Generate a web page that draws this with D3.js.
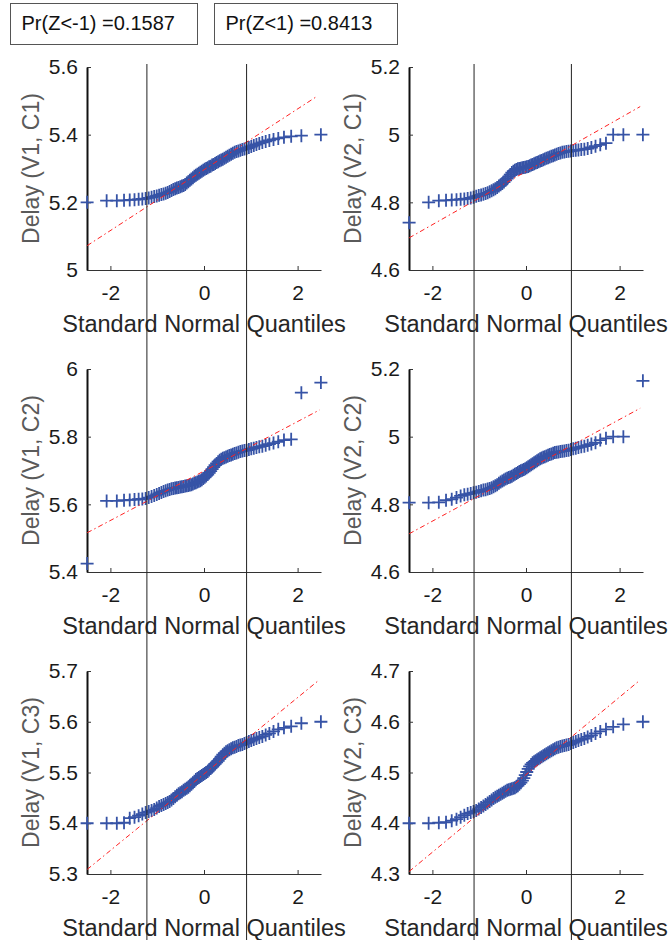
<!DOCTYPE html>
<html>
<head>
<meta charset="utf-8">
<script src="https://cdn.jsdelivr.net/npm/d3@7"></script>
<style>
  body { margin: 0; background: #fff; }
  text { font-family: "Liberation Sans", Arial, sans-serif; }
</style>
</head>
<body>
<div id="chart"></div>
<script>
// sorted delay samples (80 per panel)
const v1c1 = [5.200,5.205,5.205,5.206,5.207,5.208,5.209,5.210,5.211,5.213,5.215,5.217,5.219,5.221,5.223,5.225,5.227,5.229,5.232,5.235,
  5.238,5.240,5.242,5.244,5.246,5.248,5.250,5.253,5.257,5.261,5.265,5.269,5.273,5.277,5.280,5.283,5.286,5.289,5.292,5.295,
  5.298,5.300,5.302,5.305,5.307,5.310,5.312,5.315,5.318,5.320,5.323,5.325,5.327,5.330,5.333,5.336,5.339,5.342,5.345,5.348,
  5.350,5.352,5.354,5.356,5.358,5.360,5.362,5.365,5.368,5.371,5.374,5.377,5.380,5.383,5.386,5.389,5.392,5.395,5.397,5.400];
const v2c1 = [4.740,4.800,4.805,4.806,4.807,4.808,4.809,4.810,4.811,4.813,4.815,4.818,4.820,4.822,4.824,4.826,4.828,4.831,4.834,4.837,
  4.840,4.844,4.848,4.852,4.856,4.860,4.865,4.870,4.876,4.882,4.888,4.892,4.895,4.897,4.899,4.900,4.901,4.902,4.903,4.904,
  4.905,4.906,4.908,4.910,4.912,4.914,4.916,4.918,4.920,4.922,4.924,4.926,4.928,4.930,4.932,4.934,4.936,4.938,4.940,4.942,
  4.944,4.946,4.948,4.949,4.950,4.951,4.952,4.953,4.954,4.955,4.956,4.957,4.959,4.962,4.966,4.970,4.975,5.000,5.000,5.000];
const v1c2 = [5.425,5.610,5.610,5.612,5.613,5.614,5.615,5.616,5.617,5.620,5.623,5.626,5.629,5.632,5.635,5.638,5.640,5.642,5.644,5.646,
  5.647,5.648,5.649,5.650,5.651,5.652,5.653,5.654,5.655,5.656,5.657,5.658,5.660,5.662,5.664,5.666,5.668,5.670,5.673,5.676,
  5.680,5.684,5.688,5.693,5.698,5.704,5.710,5.716,5.721,5.726,5.730,5.733,5.736,5.738,5.740,5.742,5.744,5.746,5.748,5.750,
  5.752,5.754,5.756,5.758,5.759,5.760,5.762,5.764,5.766,5.768,5.770,5.772,5.775,5.778,5.781,5.785,5.790,5.792,5.930,5.960];
const v2c2 = [4.805,4.805,4.806,4.812,4.815,4.820,4.825,4.828,4.830,4.832,4.834,4.836,4.838,4.840,4.842,4.843,4.845,4.847,4.849,4.852,
  4.855,4.858,4.862,4.866,4.869,4.872,4.875,4.877,4.879,4.881,4.883,4.886,4.889,4.891,4.894,4.897,4.899,4.901,4.903,4.905,
  4.908,4.911,4.914,4.917,4.920,4.923,4.926,4.929,4.932,4.935,4.937,4.939,4.941,4.943,4.945,4.947,4.949,4.951,4.953,4.954,
  4.955,4.956,4.957,4.958,4.959,4.960,4.962,4.964,4.966,4.968,4.970,4.972,4.975,4.978,4.982,4.990,4.995,5.000,5.000,5.165];
const v1c3 = [5.400,5.400,5.400,5.401,5.410,5.412,5.415,5.418,5.421,5.423,5.425,5.427,5.430,5.433,5.435,5.437,5.439,5.441,5.443,5.446,
  5.449,5.452,5.455,5.458,5.460,5.462,5.465,5.467,5.469,5.471,5.474,5.477,5.480,5.483,5.486,5.488,5.490,5.492,5.494,5.496,
  5.498,5.500,5.502,5.505,5.508,5.511,5.514,5.517,5.520,5.523,5.527,5.531,5.535,5.538,5.541,5.543,5.545,5.547,5.549,5.550,
  5.551,5.553,5.554,5.555,5.557,5.559,5.561,5.563,5.565,5.567,5.569,5.571,5.574,5.577,5.581,5.585,5.588,5.591,5.597,5.600];
const v2c3 = [4.400,4.400,4.401,4.402,4.405,4.408,4.412,4.416,4.419,4.421,4.423,4.425,4.428,4.431,4.434,4.437,4.440,4.443,4.446,4.449,
  4.451,4.453,4.455,4.457,4.459,4.461,4.463,4.465,4.466,4.467,4.468,4.469,4.470,4.472,4.474,4.477,4.480,4.484,4.489,4.495,
  4.501,4.507,4.512,4.516,4.519,4.521,4.523,4.525,4.527,4.529,4.531,4.533,4.535,4.537,4.539,4.541,4.543,4.545,4.547,4.549,
  4.550,4.551,4.552,4.553,4.554,4.555,4.557,4.559,4.561,4.563,4.565,4.567,4.570,4.573,4.577,4.581,4.585,4.590,4.595,4.600];

// reference lines (dash-dot), end points [z, delay]
const refV1C1 = [[-2.496, 5.072], [2.40, 5.512]];
const refV2C1 = [[-2.496, 4.695], [2.44, 5.083]];
const refV1C2 = [[-2.496, 5.516], [2.47, 5.879]];
const refV2C2 = [[-2.496, 4.713], [2.44, 5.084]];
const refV1C3 = [[-2.496, 5.309], [2.43, 5.680]];
const refV2C3 = [[-2.496, 4.305], [2.41, 4.680]];

const yLimV1C1 = [5, 5.6], yTicksV1C1 = [5, 5.2, 5.4, 5.6];
const yLimV2C1 = [4.6, 5.2], yTicksV2C1 = [4.6, 4.8, 5, 5.2];
const yLimV1C2 = [5.4, 6], yTicksV1C2 = [5.4, 5.6, 5.8, 6];
const yLimV2C2 = [4.6, 5.2], yTicksV2C2 = [4.6, 4.8, 5, 5.2];
const yLimV1C3 = [5.3, 5.7], yTicksV1C3 = [5.3, 5.4, 5.5, 5.6, 5.7];
const yLimV2C3 = [4.3, 4.7], yTicksV2C3 = [4.3, 4.4, 4.5, 4.6, 4.7];

const yLabels = ['Delay (V1, C1)', 'Delay (V2, C1)', 'Delay (V1, C2)', 'Delay (V2, C2)', 'Delay (V1, C3)', 'Delay (V2, C3)'];
const xLabel = 'Standard Normal Quantiles';
const xTicks = [-2, 0, 2];

// vertical guide lines (in each column's quantile units)
const guidesLeft = [-1.22, 0.91];
const guidesRight = [-1.11, 0.97];

const probLabels = ['Pr(Z<-1) =0.1587', 'Pr(Z<1) =0.8413'];

// standard normal inverse CDF (Acklam approximation)
function normInv(p) {
  const a = [-39.69683028665376, 220.9460984245205, -275.9285104469687, 138.3577518672690, -30.66479806614716, 2.506628277459239];
  const b = [-54.47609879822406, 161.5858368580409, -155.6989798598866, 66.80131188771972, -13.28068155288572];
  const c = [-0.007784894002430293, -0.3223964580411365, -2.400758277161838, -2.549732539343734, 4.374664141464968, 2.938163982698783];
  const d = [0.007784695709041462, 0.3224671290700398, 2.445134137142996, 3.754408661907416];
  const pl = 0.02425;
  let q, r;
  if (p < pl) {
    q = Math.sqrt(-2 * Math.log(p));
    return (((((c[0]*q+c[1])*q+c[2])*q+c[3])*q+c[4])*q+c[5]) / ((((d[0]*q+d[1])*q+d[2])*q+d[3])*q+1);
  }
  if (p > 1 - pl) {
    q = Math.sqrt(-2 * Math.log(1 - p));
    return -(((((c[0]*q+c[1])*q+c[2])*q+c[3])*q+c[4])*q+c[5]) / ((((d[0]*q+d[1])*q+d[2])*q+d[3])*q+1);
  }
  q = p - 0.5; r = q * q;
  return (((((a[0]*r+a[1])*r+a[2])*r+a[3])*r+a[4])*r+a[5])*q / (((((b[0]*r+b[1])*r+b[2])*r+b[3])*r+b[4])*r+1);
}

const panels = [
  { data: v1c1, ref: refV1C1, lim: yLimV1C1, ticks: yTicksV1C1, col: 0, row: 0 },
  { data: v2c1, ref: refV2C1, lim: yLimV2C1, ticks: yTicksV2C1, col: 1, row: 0 },
  { data: v1c2, ref: refV1C2, lim: yLimV1C2, ticks: yTicksV1C2, col: 0, row: 1 },
  { data: v2c2, ref: refV2C2, lim: yLimV2C2, ticks: yTicksV2C2, col: 1, row: 1 },
  { data: v1c3, ref: refV1C3, lim: yLimV1C3, ticks: yTicksV1C3, col: 0, row: 2 },
  { data: v2c3, ref: refV2C3, lim: yLimV2C3, ticks: yTicksV2C3, col: 1, row: 2 }
];

const width = 670, height = 940;
const colX = [87, 409], rowY = [67, 369, 671];
const pw = 234, ph = 203;

const svg = d3.select('#chart').append('svg')
  .attr('width', width)
  .attr('height', height);

const fmt = d => String(+d.toFixed(2));

// one x scale per column
const xScales = colX.map(x0 => d3.scaleLinear().domain([-2.5, 2.5]).range([x0, x0 + pw]));

panels.forEach((p, i) => {
  const x = xScales[p.col];
  const y = d3.scaleLinear().domain(p.lim).range([rowY[p.row] + ph, rowY[p.row]]);
  const g = svg.append('g');
  const n = p.data.length;
  const pts = p.data.map((v, k) => [normInv((k + 0.5) / n), v]);

  // x axis
  const xAxis = g.append('g')
    .attr('transform', `translate(0, ${y.range()[0]})`)
    .call(d3.axisBottom(x).tickValues(xTicks).tickFormat(fmt).tickSizeInner(-4).tickSizeOuter(0).tickPadding(15));
  xAxis.select('.domain').attr('stroke', '#333').attr('stroke-width', 1.2);
  xAxis.selectAll('.tick line').attr('stroke', '#333');
  xAxis.selectAll('text').attr('font-size', 21).attr('fill', '#1a1a1a')
    .attr('font-family', '"Liberation Sans", Arial, sans-serif');

  // y axis
  const yAxis = g.append('g')
    .attr('transform', `translate(${x.range()[0]}, 0)`)
    .call(d3.axisLeft(y).tickValues(p.ticks).tickFormat(fmt).tickSizeInner(-4).tickSizeOuter(0).tickPadding(9));
  yAxis.select('.domain').attr('stroke', '#111').attr('stroke-width', 2);
  yAxis.selectAll('.tick line').attr('stroke', '#333');
  yAxis.selectAll('text').attr('font-size', 21).attr('fill', '#1a1a1a')
    .attr('font-family', '"Liberation Sans", Arial, sans-serif');

  // axis labels
  g.append('text')
    .attr('x', (x.range()[0] + x.range()[1]) / 2)
    .attr('y', y.range()[0] + 62)
    .attr('text-anchor', 'middle')
    .attr('font-size', 23.5)
    .attr('fill', '#262626')
    .text(xLabel);

  g.append('text')
    .attr('transform', `translate(${x.range()[0] - 48}, ${(y.range()[0] + y.range()[1]) / 2}) rotate(-90)`)
    .attr('text-anchor', 'middle')
    .attr('font-size', 23)
    .attr('fill', '#5a5a5a')
    .text(yLabels[i]);

  // data markers
  g.append('g').selectAll('path')
    .data(pts)
    .join('path')
    .attr('transform', d => `translate(${x(d[0])}, ${y(d[1])})`)
    .attr('d', 'M-6.5,0H6.5M0,-6.5V6.5')
    .attr('stroke', '#3653a6')
    .attr('stroke-width', 1.8)
    .attr('fill', 'none');

  // reference line
  g.append('path')
    .datum(p.ref)
    .attr('d', d3.line().x(d => x(d[0])).y(d => y(d[1])))
    .attr('stroke', '#ff2020')
    .attr('stroke-width', 1)
    .attr('stroke-dasharray', '5,3,1.5,3')
    .attr('fill', 'none');
});

// vertical guide lines through all rows
[[xScales[0], guidesLeft], [xScales[1], guidesRight]].forEach(([x, vals]) => {
  svg.append('g').selectAll('line')
    .data(vals)
    .join('line')
    .attr('x1', d => x(d)).attr('x2', d => x(d))
    .attr('y1', 64).attr('y2', height)
    .attr('stroke', '#222')
    .attr('stroke-width', 1);
});

// probability boxes
const boxes = [{ x: 10.5, w: 187 }, { x: 214.5, w: 183 }];
boxes.forEach((b, i) => {
  svg.append('rect')
    .attr('x', b.x).attr('y', 3.5)
    .attr('width', b.w).attr('height', 41)
    .attr('fill', '#fff')
    .attr('stroke', '#555');
  svg.append('text')
    .attr('x', b.x + 11).attr('y', 30)
    .attr('font-size', 20)
    .attr('fill', '#111')
    .text(probLabels[i]);
});
</script>
</body>
</html>
